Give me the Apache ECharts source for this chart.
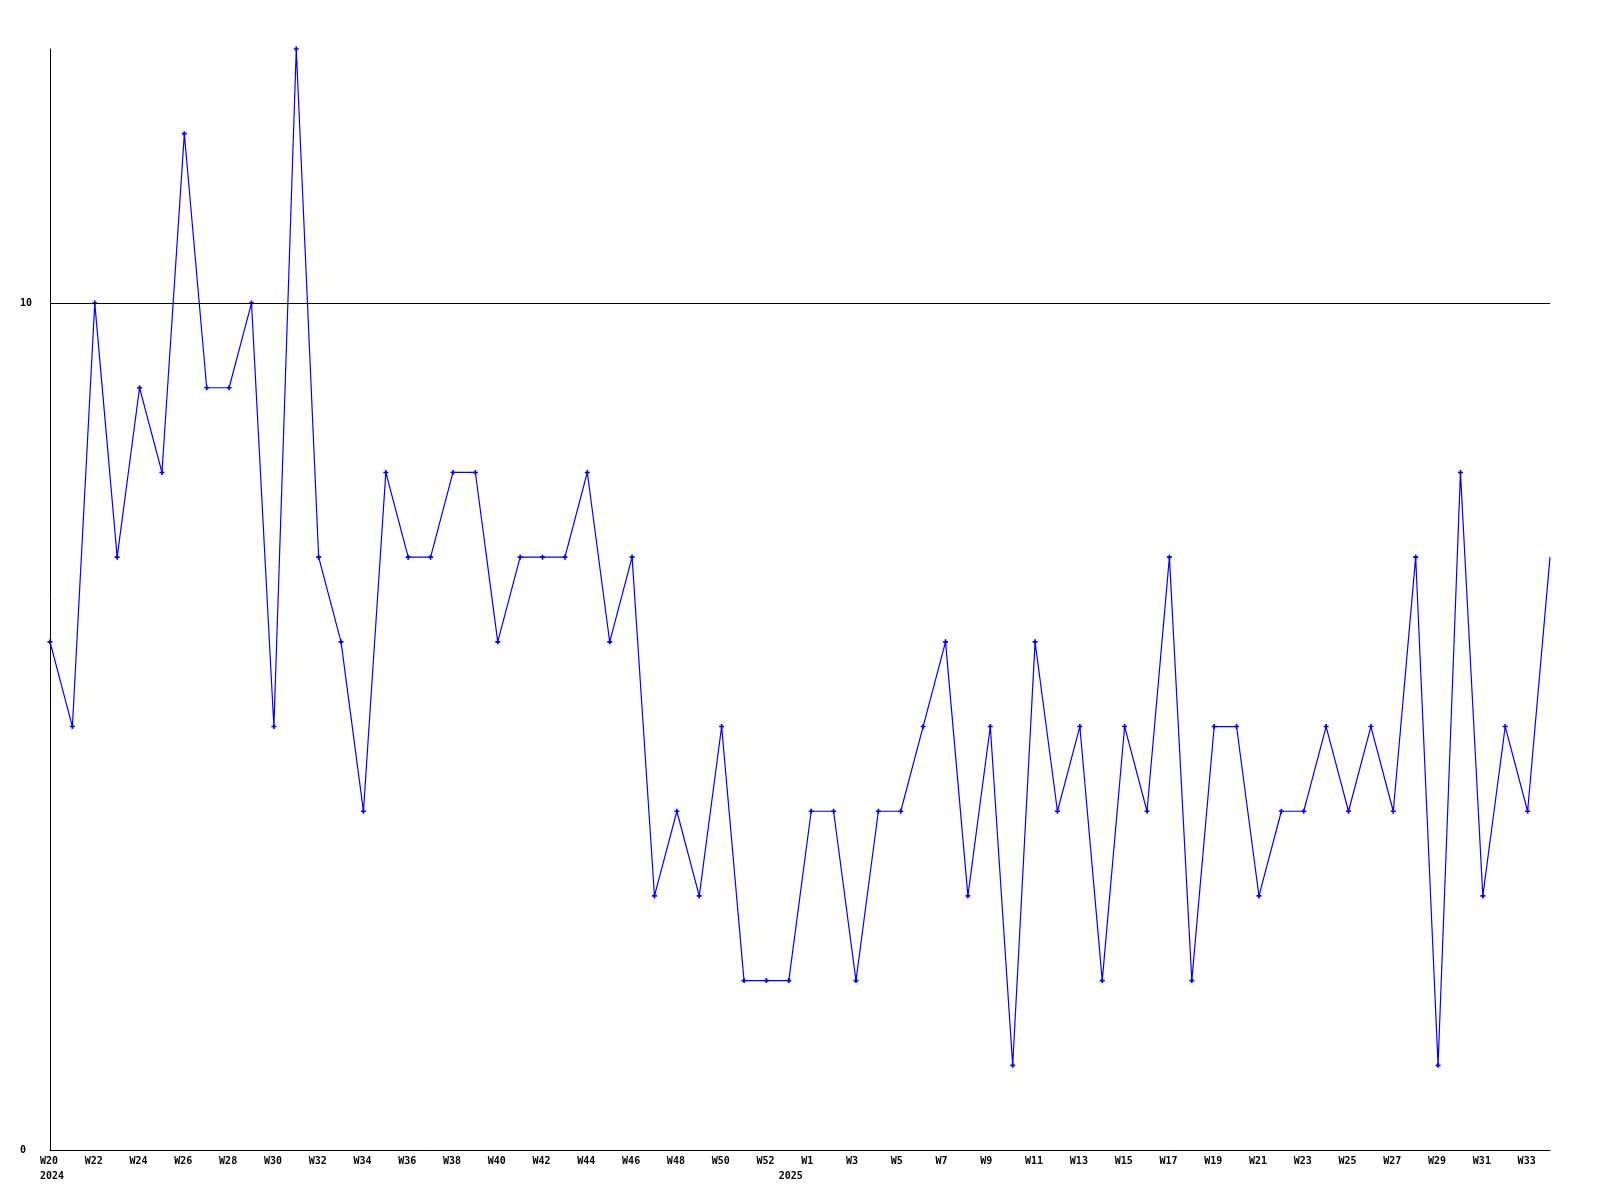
<!DOCTYPE html>
<html>
<head>
<meta charset="utf-8">
<script src="https://cdn.jsdelivr.net/npm/echarts@6/dist/echarts.min.js"></script>
<style>html,body{margin:0;padding:0;background:#fff}#c{width:1600px;height:1200px}</style>
</head>
<body>
<div id="c"></div>
<script>
const weeks = ['W20','W21','W22','W23','W24','W25','W26','W27','W28','W29','W30','W31','W32','W33','W34','W35','W36','W37','W38','W39','W40','W41','W42','W43','W44','W45','W46','W47','W48','W49','W50','W51','W52','W53',
  'W1','W2','W3','W4','W5','W6','W7','W8','W9','W10','W11','W12','W13','W14','W15','W16','W17','W18','W19','W20','W21','W22','W23','W24','W25','W26','W27','W28','W29','W30','W31','W32','W33','W34'];
const values = [6,5,10,7,9,8,12,9,9,10,5,13,7,6,4,8,7,7,8,8,6,7,7,7,8,6,7,3,4,3,5,2,2,2,
  4,4,2,4,4,5,6,3,5,1,6,4,5,2,5,4,7,2,5,5,3,4,4,5,4,5,4,7,1,8,3,5,4,7];
const yearLabels = {0:'2024', 33:'2025'};
const yTicks = [0, 10];
const refLine = 10;

const font = '"DejaVu Sans Mono", monospace';
const chart = echarts.init(document.getElementById('c'), null, {renderer:'canvas'});
const plus = 'path://M2,0H4V2H6V4H4V6H2V4H0V2H2Z';
chart.setOption({
  animation: false,
  grid: {left: 50, right: 50, top: 49, bottom: 50, containLabel: false},
  xAxis: {
    type: 'category', data: weeks, boundaryGap: false,
    axisLine: {lineStyle: {color: '#000', width: 1}},
    axisTick: {show: false},
    splitLine: {show: false},
    axisLabel: {
      interval: 0, margin: 4, color: '#000',
      formatter: function (v, i) {
        const w = (i % 2 === 0) ? v : '';
        const y = yearLabels[i];
        if (!w && !y) return '';
        return '{w|' + (w || ' ') + '}' + (y ? '\n{y|' + y + '}' : '');
      },
      rich: {
        w: {fontFamily: font, fontWeight: 'bold', fontSize: 10, width: 20, align: 'left', lineHeight: 15, color: '#000'},
        y: {fontFamily: font, fontWeight: 'bold', fontSize: 10, width: 20, align: 'left', lineHeight: 15, color: '#000'}
      }
    }
  },
  yAxis: {
    type: 'value', min: 0, max: 13, interval: 10,
    axisLine: {show: true, lineStyle: {color: '#000', width: 1}},
    axisTick: {show: false},
    splitLine: {show: false},
    axisLabel: {
      margin: 30, align: 'left', color: '#000',
      fontFamily: font, fontWeight: 'bold', fontSize: 10,
      formatter: v => yTicks.indexOf(v) >= 0 ? String(v) : ''
    }
  },
  series: [{
    type: 'line', data: values,
    lineStyle: {color: '#0000ff', width: 1.2},
    itemStyle: {color: '#0000ff'},
    symbol: (v, p) => p.dataIndex === values.length - 1 ? 'none' : plus,
    symbolSize: 5,
    showAllSymbol: true,
    markLine: {
      silent: true, symbol: 'none', label: {show: false},
      lineStyle: {color: '#000', width: 1, type: 'solid'},
      data: [{yAxis: refLine}]
    }
  }]
});
</script>
</body>
</html>
